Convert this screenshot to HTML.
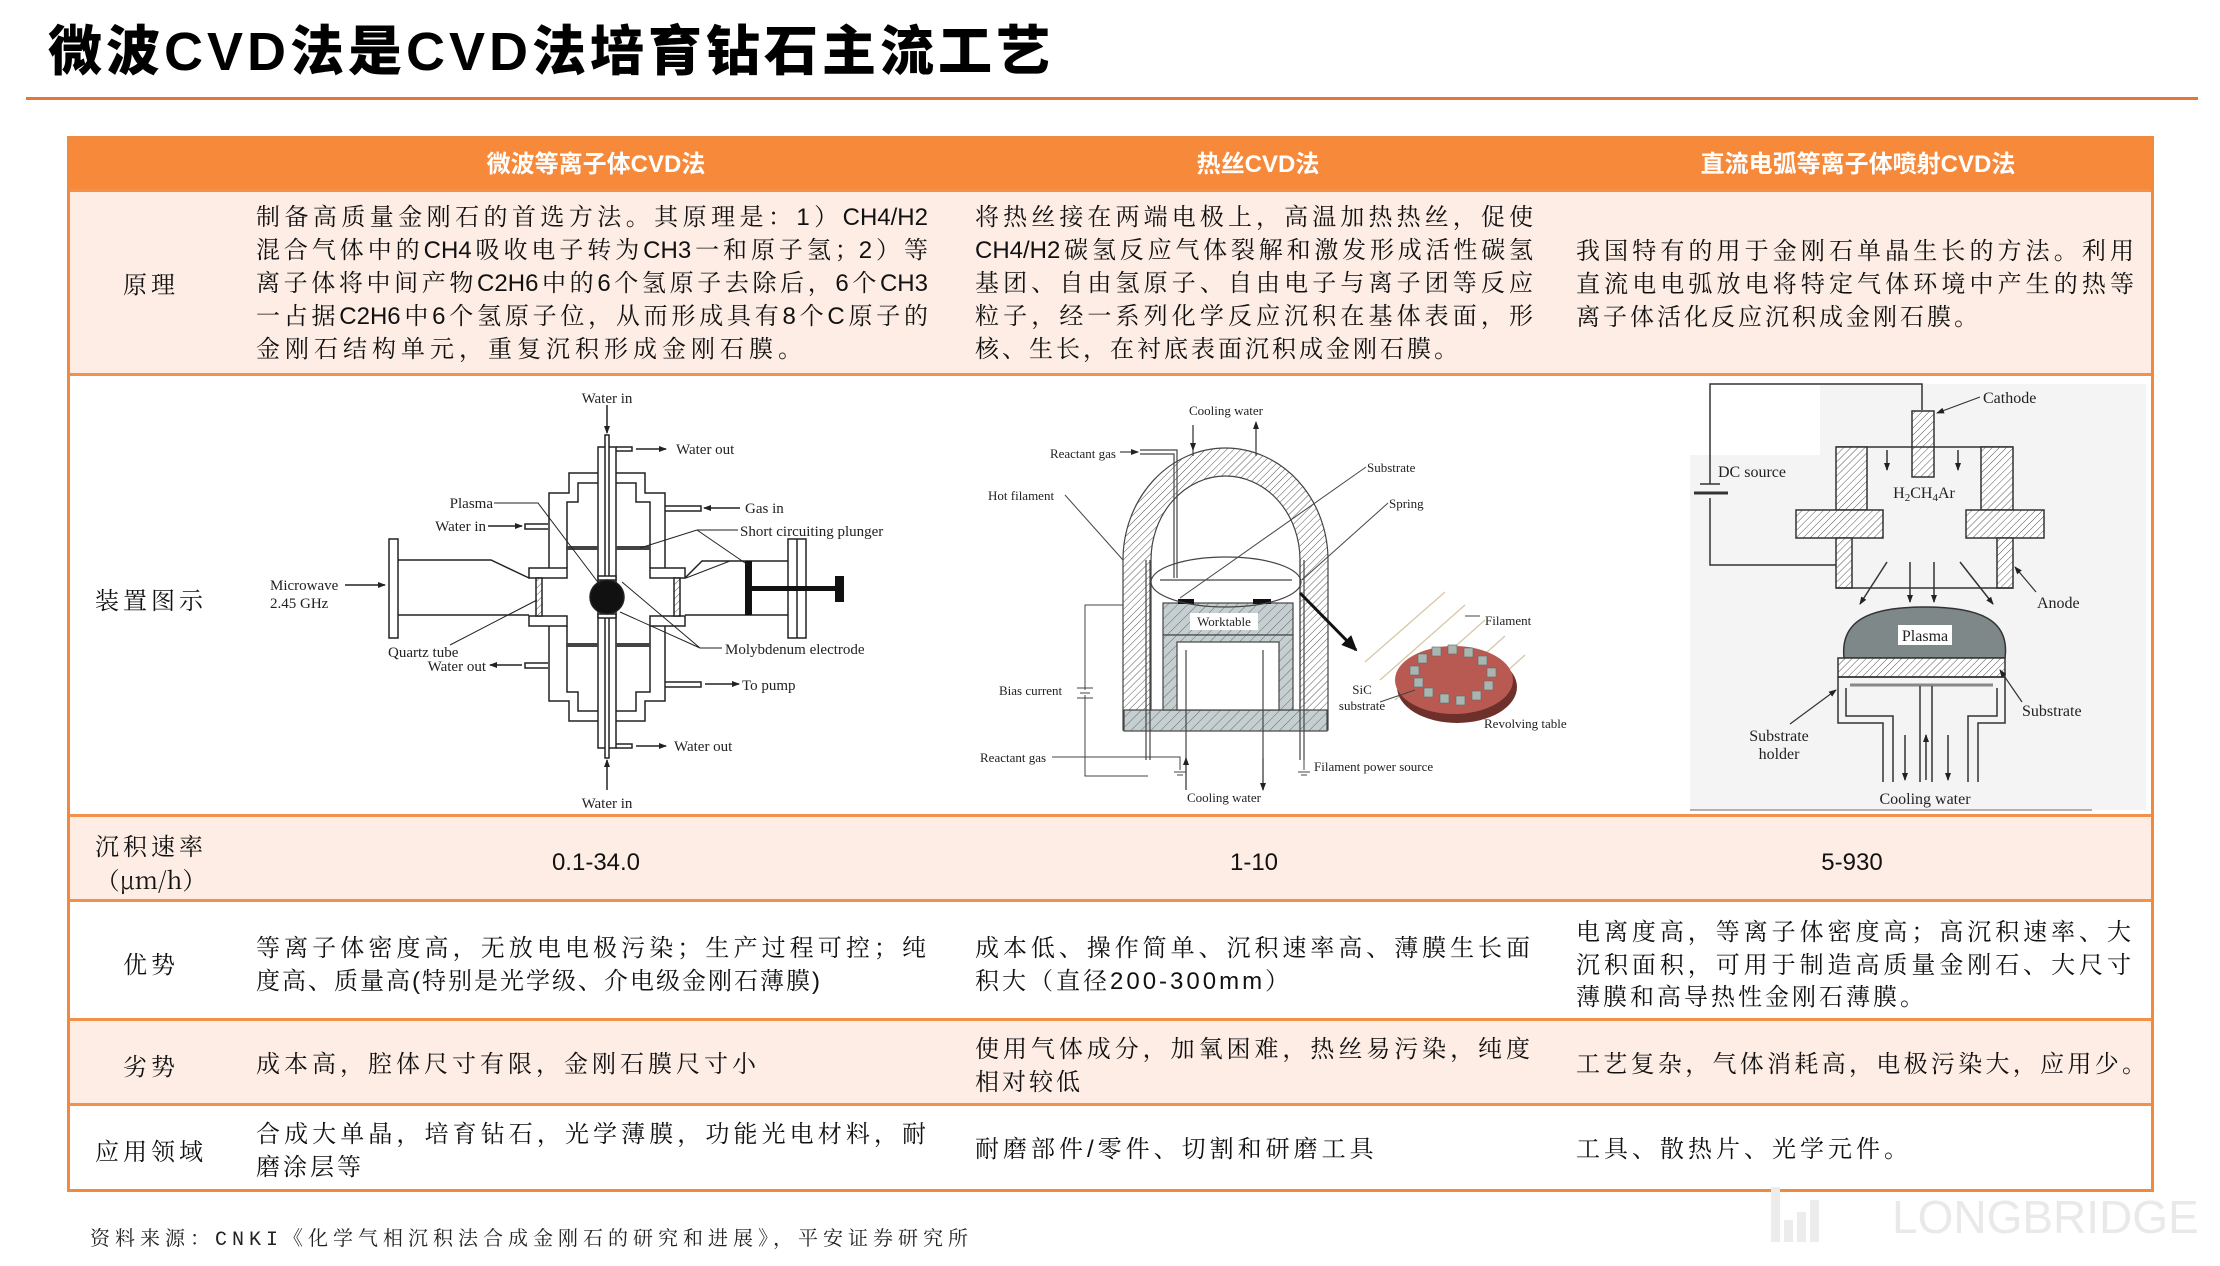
<!DOCTYPE html>
<html><head><meta charset="utf-8">
<style>
*{margin:0;padding:0;box-sizing:border-box}
body{width:2220px;height:1266px;background:#fff;position:relative;overflow:hidden;font-family:"Liberation Sans","Noto Serif CJK SC",serif}
.a{position:absolute}
.title{left:48px;top:21px;font-family:"Liberation Sans","Noto Sans CJK SC",sans-serif;font-weight:900;font-size:54px;letter-spacing:4px;color:#000;white-space:nowrap;line-height:62px}
.row{position:absolute;left:68px;width:2084px;border-top:3px solid #F2914C}
.pink{background:#FDEDE5}
.hd{color:#fff;font-family:"Liberation Sans","Noto Sans CJK SC",sans-serif;font-weight:bold;font-size:24px;text-align:center;white-space:nowrap;transform:translateX(-50%);line-height:30px}
.t{font-family:"Liberation Sans","Noto Serif CJK SC",serif;font-size:24px;color:#111;line-height:30px;white-space:nowrap;letter-spacing:5px;transform:translateY(-50%)}
.j{text-align:justify;text-align-last:justify;letter-spacing:0}
.lab{font-family:"Noto Serif CJK SC",serif;font-size:24px;color:#111;line-height:30px;white-space:nowrap;letter-spacing:4px;transform:translate(-50%,-50%);text-align:center}
.num{font-family:"Liberation Sans",sans-serif;font-size:24px;color:#111;transform:translate(-50%,-50%);white-space:nowrap}
svg text{font-family:"Liberation Serif",serif;fill:#222}
</style></head><body>
<div class="a title">微波CVD法是CVD法培育钻石主流工艺</div>
<div class="a" style="left:26px;top:97px;width:2172px;height:3px;background:#E8743A"></div>

<!-- table -->
<div class="a" style="left:68px;top:137px;width:2084px;height:54px;background:#F7893B"></div>
<div class="row pink" style="top:189px;height:186px"></div>
<div class="row" style="top:373px;height:443px;background:#fff"></div>
<div class="row pink" style="top:814px;height:87px"></div>
<div class="row" style="top:899px;height:121px"></div>
<div class="row pink" style="top:1018px;height:87px"></div>
<div class="row" style="top:1103px;height:87px"></div>
<div class="a" style="left:67px;top:136px;width:2087px;height:1056px;border:3px solid #F08A3E"></div>

<div class="a hd" style="left:596px;top:150px">微波等离子体CVD法</div>
<div class="a hd" style="left:1258px;top:150px">热丝CVD法</div>
<div class="a hd" style="left:1858px;top:150px">直流电弧等离子体喷射CVD法</div>

<!-- 原理 -->
<div class="a lab" style="left:151px;top:283px">原理</div>
<div class="a t j" style="left:256px;top:218px;width:672px">制备高质量金刚石的首选方法。其原理是：1）CH4/H2</div>
<div class="a t j" style="left:256px;top:251px;width:672px">混合气体中的CH4吸收电子转为CH3一和原子氢；2）等</div>
<div class="a t j" style="left:256px;top:284px;width:672px">离子体将中间产物C2H6中的6个氢原子去除后，6个CH3</div>
<div class="a t j" style="left:256px;top:317px;width:672px">一占据C2H6中6个氢原子位，从而形成具有8个C原子的</div>
<div class="a t" style="left:256px;top:350px">金刚石结构单元，重复沉积形成金刚石膜。</div>

<div class="a t j" style="left:975px;top:218px;width:558px">将热丝接在两端电极上，高温加热热丝，促使</div>
<div class="a t j" style="left:975px;top:251px;width:558px">CH4/H2碳氢反应气体裂解和激发形成活性碳氢</div>
<div class="a t j" style="left:975px;top:284px;width:558px">基团、自由氢原子、自由电子与离子团等反应</div>
<div class="a t j" style="left:975px;top:317px;width:558px">粒子，经一系列化学反应沉积在基体表面，形</div>
<div class="a t" style="left:975px;top:350px;letter-spacing:3px">核、生长，在衬底表面沉积成金刚石膜。</div>

<div class="a t j" style="left:1576px;top:252px;width:558px">我国特有的用于金刚石单晶生长的方法。利用</div>
<div class="a t j" style="left:1576px;top:285px;width:558px">直流电电弧放电将特定气体环境中产生的热等</div>
<div class="a t" style="left:1576px;top:318px;letter-spacing:3px">离子体活化反应沉积成金刚石膜。</div>

<!-- 装置 -->
<div class="a lab" style="left:151px;top:599px">装置图示</div>

<!-- 沉积 -->
<div class="a lab" style="left:151px;top:845px">沉积速率</div>
<div class="a lab" style="left:151px;top:879px;letter-spacing:0">（μm/h）</div>
<div class="a num" style="left:596px;top:863px">0.1-34.0</div>
<div class="a num" style="left:1254px;top:863px">1-10</div>
<div class="a num" style="left:1852px;top:863px">5-930</div>

<!-- 优势 -->
<div class="a lab" style="left:151px;top:963px">优势</div>
<div class="a t j" style="left:256px;top:949px;width:670px">等离子体密度高，无放电电极污染；生产过程可控；纯</div>
<div class="a t" style="left:256px;top:982px;letter-spacing:2px">度高、质量高(特别是光学级、介电级金刚石薄膜)</div>
<div class="a t j" style="left:975px;top:949px;width:555px">成本低、操作简单、沉积速率高、薄膜生长面</div>
<div class="a t" style="left:975px;top:982px;letter-spacing:3px">积大（直径200-300mm）</div>
<div class="a t j" style="left:1576px;top:933px;width:555px">电离度高，等离子体密度高；高沉积速率、大</div>
<div class="a t j" style="left:1576px;top:966px;width:555px">沉积面积，可用于制造高质量金刚石、大尺寸</div>
<div class="a t" style="left:1576px;top:998px;letter-spacing:3px">薄膜和高导热性金刚石薄膜。</div>

<!-- 劣势 -->
<div class="a lab" style="left:151px;top:1065px">劣势</div>
<div class="a t" style="left:256px;top:1065px;letter-spacing:4px">成本高，腔体尺寸有限，金刚石膜尺寸小</div>
<div class="a t j" style="left:975px;top:1050px;width:555px">使用气体成分，加氧困难，热丝易污染，纯度</div>
<div class="a t" style="left:975px;top:1083px;letter-spacing:3px">相对较低</div>
<div class="a t j" style="left:1576px;top:1065px;width:570px">工艺复杂，气体消耗高，电极污染大，应用少。</div>

<!-- 应用 -->
<div class="a lab" style="left:151px;top:1150px">应用领域</div>
<div class="a t j" style="left:256px;top:1135px;width:670px">合成大单晶，培育钻石，光学薄膜，功能光电材料，耐</div>
<div class="a t" style="left:256px;top:1168px;letter-spacing:3px">磨涂层等</div>
<div class="a t" style="left:975px;top:1150px;letter-spacing:4px">耐磨部件/零件、切割和研磨工具</div>
<div class="a t" style="left:1576px;top:1150px;letter-spacing:4px">工具、散热片、光学元件。</div>

<div class="a" style="left:90px;top:1222px;font-family:'Liberation Mono','Noto Serif CJK SC',serif;font-size:20px;letter-spacing:5px;color:#222;white-space:nowrap">资料来源：CNKI《化学气相沉积法合成金刚石的研究和进展》，平安证券研究所</div>

<!-- watermark -->
<div class="a" style="left:1771px;top:1187px;width:9px;height:55px;background:#ececec"></div>
<div class="a" style="left:1784px;top:1220px;width:9px;height:22px;background:#ececec"></div>
<div class="a" style="left:1797px;top:1212px;width:9px;height:30px;background:#ececec"></div>
<div class="a" style="left:1810px;top:1200px;width:9px;height:42px;background:#ececec"></div>
<div class="a" style="left:1892px;top:1190px;font-family:'Liberation Sans',sans-serif;font-size:46px;color:#e9e9e9;white-space:nowrap">LONGBRIDGE</div>

<svg class="a" style="left:0;top:0" width="2220" height="1266" viewBox="0 0 2220 1266">
<defs>
<pattern id="h" width="5" height="5" patternUnits="userSpaceOnUse" patternTransform="rotate(45)"><rect width="5" height="5" fill="#fff"/><line x1="0" y1="0" x2="0" y2="5" stroke="#555" stroke-width="1"/></pattern>
<pattern id="hg" width="7" height="7" patternUnits="userSpaceOnUse" patternTransform="rotate(45)"><rect width="7" height="7" fill="#c5cfcf"/><line x1="0" y1="0" x2="0" y2="7" stroke="#667" stroke-width="1"/></pattern>
<marker id="ar" markerWidth="8" markerHeight="8" refX="7" refY="4" orient="auto" markerUnits="userSpaceOnUse"><path d="M0,1 L8,4 L0,7 Z" fill="#222"/></marker>
<marker id="arb" markerWidth="16" markerHeight="14" refX="14" refY="7" orient="auto" markerUnits="userSpaceOnUse"><path d="M0,0 L16,7 L0,14 Z" fill="#111"/></marker>
</defs>

<!-- ========== Microwave diagram ========== -->
<g stroke="#222" stroke-width="1.5" fill="none" font-size="15">
<rect x="598" y="447" width="18" height="301" fill="#fff"/>
<rect x="605" y="435" width="4" height="323" fill="#fff"/>
<line x1="607" y1="405" x2="607" y2="433" marker-end="url(#ar)"/>
<line x1="607" y1="790" x2="607" y2="760" marker-end="url(#ar)"/>
<path d="M616,447 H632 V451 H616"/>
<line x1="636" y1="449" x2="666" y2="449" marker-end="url(#ar)"/>
<path d="M616,744 H632 V748 H616"/>
<line x1="636" y1="746" x2="666" y2="746" marker-end="url(#ar)"/>
<path d="M549,568 V493 H569 V473 H598 M616,473 H645 V493 H665 V568"/>
<path d="M567,568 V502 H578 V483 H598 M616,483 H636 V502 H650 V568"/>
<path d="M549,626 V701 H569 V721 H598 M616,721 H645 V701 H665 V626"/>
<path d="M567,626 V692 H578 V711 H598 M616,711 H636 V692 H650 V626"/>
<rect x="529" y="568" width="38" height="10"/>
<rect x="650" y="568" width="35" height="10"/>
<rect x="529" y="616" width="38" height="10"/>
<rect x="650" y="616" width="35" height="10"/>
<rect x="536" y="578" width="6" height="38" fill="url(#h)"/>
<rect x="674" y="578" width="6" height="38" fill="url(#h)"/>
<rect x="389" y="539" width="9" height="99"/>
<path d="M398,560 H491 L529,578 M398,615 H529"/>
<path d="M685,578 L702,561 H788 M685,615 H788"/>
<rect x="788" y="539" width="18" height="99"/>
<line x1="797" y1="539" x2="797" y2="638"/>
<rect x="745" y="561" width="7" height="54" fill="#111" stroke="none"/>
<rect x="752" y="586" width="83" height="5" fill="#111" stroke="none"/>
<rect x="835" y="576" width="9" height="26" fill="#111" stroke="none"/>
<rect x="598" y="576" width="18" height="4" fill="#fff"/>
<rect x="598" y="614" width="18" height="4" fill="#fff"/>
<ellipse cx="607" cy="597" rx="17" ry="17" fill="#111"/>
<rect x="566" y="546" width="32" height="4" fill="#444" stroke="none"/>
<rect x="616" y="546" width="34" height="4" fill="#444" stroke="none"/>
<rect x="566" y="643" width="32" height="4" fill="#444" stroke="none"/>
<rect x="616" y="643" width="34" height="4" fill="#444" stroke="none"/>
<path d="M548,524 H525 V529 H548"/>
<line x1="488" y1="526" x2="522" y2="526" marker-end="url(#ar)"/>
<path d="M665,506 H701 V511 H665"/>
<line x1="740" y1="508" x2="704" y2="508" marker-end="url(#ar)"/>
<path d="M665,682 H701 V687 H665"/>
<line x1="705" y1="684" x2="739" y2="684" marker-end="url(#ar)"/>
<path d="M548,663 H525 V668 H548"/>
<line x1="522" y1="665" x2="490" y2="665" marker-end="url(#ar)"/>
<line x1="345" y1="585" x2="385" y2="585" marker-end="url(#ar)"/>
<g stroke-width="1">
<path d="M494,503 H538 L600,585"/>
<path d="M738,530 H697 L640,548 M697,530 L748,565"/>
<path d="M686,578 L730,561"/>
<path d="M722,648 H700 L622,582 M700,648 L620,612"/>
<path d="M450,645 L537,600"/>
</g>
</g>
<g font-size="15">
<text x="607" y="403" text-anchor="middle">Water in</text>
<text x="676" y="454">Water out</text>
<text x="674" y="751">Water out</text>
<text x="607" y="808" text-anchor="middle">Water in</text>
<text x="493" y="508" text-anchor="end">Plasma</text>
<text x="486" y="531" text-anchor="end">Water in</text>
<text x="745" y="513">Gas in</text>
<text x="740" y="536">Short circuiting plunger</text>
<text x="270" y="590">Microwave</text>
<text x="270" y="608">2.45 GHz</text>
<text x="388" y="657">Quartz tube</text>
<text x="486" y="671" text-anchor="end">Water out</text>
<text x="725" y="654">Molybdenum electrode</text>
<text x="742" y="690">To pump</text>
</g>

<!-- ========== Hot filament diagram ========== -->
<g stroke="#444" stroke-width="1.2" font-size="13">
<path d="M1123,730 V560 A102.5,112 0 0 1 1328,560 V730 Z" fill="url(#h)"/>
<path d="M1151,712 V560 A74.5,84 0 0 1 1300,560 V712 Z" fill="#fff"/>
<rect x="1124" y="710" width="203" height="21" fill="url(#hg)"/>
<rect x="1163" y="603" width="130" height="32" fill="url(#hg)"/>
<rect x="1163" y="635" width="130" height="75" fill="url(#hg)"/>
<rect x="1177" y="642" width="102" height="68" fill="#fff"/>
<rect x="1190" y="613" width="68" height="17" fill="#fff" stroke="none"/>
<rect x="1178" y="599" width="16" height="5" fill="#111" stroke="none"/>
<rect x="1253" y="599" width="18" height="5" fill="#111" stroke="none"/>
<line x1="1160" y1="580" x2="1292" y2="580"/>
<ellipse cx="1226" cy="582" rx="75" ry="25" fill="none"/>
<path d="M1146,560 V760 M1150,560 V760 M1300,560 V760 M1304,560 V760" fill="none"/>
<path d="M1186,650 V790 M1263,650 V790" fill="none"/>
<path d="M1140,450 H1177 V578 M1140,454 H1174 V578" fill="none"/>
<line x1="1120" y1="452" x2="1138" y2="452" marker-end="url(#ar)"/>
<path d="M1193,425 V456 M1256,456 V425" fill="none"/>
<line x1="1193" y1="425" x2="1193" y2="450" marker-end="url(#ar)"/>
<line x1="1256" y1="450" x2="1256" y2="422" marker-end="url(#ar)"/>
<line x1="1186" y1="790" x2="1186" y2="758" marker-end="url(#ar)"/>
<line x1="1263" y1="758" x2="1263" y2="790" marker-end="url(#ar)"/>
<line x1="1300" y1="593" x2="1356" y2="650" stroke="#111" stroke-width="3" marker-end="url(#arb)"/>
<g stroke="#d8c7a5" stroke-width="1.3">
<line x1="1365" y1="662" x2="1445" y2="592"/>
<line x1="1380" y1="680" x2="1465" y2="605"/>
<line x1="1395" y1="700" x2="1485" y2="620"/>
<line x1="1420" y1="712" x2="1505" y2="636"/>
<line x1="1455" y1="718" x2="1525" y2="655"/>
</g>
<ellipse cx="1457" cy="687" rx="60" ry="36" fill="#6e302b" stroke="none"/>
<ellipse cx="1454" cy="680" rx="59" ry="34" fill="#b85a52" stroke="none"/>
<g fill="#aab4b0" stroke="#666" stroke-width="0.6">
<rect x="1410" y="666" width="9" height="9"/><rect x="1418" y="654" width="9" height="9"/><rect x="1432" y="647" width="9" height="9"/><rect x="1448" y="645" width="9" height="9"/><rect x="1464" y="648" width="9" height="9"/><rect x="1478" y="656" width="9" height="9"/><rect x="1487" y="668" width="9" height="9"/><rect x="1484" y="681" width="9" height="9"/><rect x="1472" y="691" width="9" height="9"/><rect x="1456" y="696" width="9" height="9"/><rect x="1440" y="694" width="9" height="9"/><rect x="1424" y="688" width="9" height="9"/><rect x="1414" y="678" width="9" height="9"/>
</g>
<g fill="none" stroke-width="1">
<path d="M1085,690 V605 H1123 M1085,695 V776 H1148"/>
<path d="M1077,688 H1093 M1080,693 H1090 M1077,698 H1093"/>
<path d="M1052,757 H1180 V770 M1174,772 H1186 M1177,775 H1183"/>
<path d="M1304,760 V770 M1298,772 H1310 M1301,775 H1307"/>
<path d="M1065,495 L1123,560"/>
<path d="M1366,467 L1180,598"/>
<path d="M1388,503 L1302,580"/>
<path d="M1480,616 H1465"/>
<path d="M1380,702 L1415,690"/>
</g>
</g>
<g font-size="13">
<text x="1226" y="415" text-anchor="middle">Cooling water</text>
<text x="1116" y="458" text-anchor="end">Reactant gas</text>
<text x="1367" y="472">Substrate</text>
<text x="988" y="500">Hot filament</text>
<text x="1389" y="508">Spring</text>
<text x="1224" y="626" text-anchor="middle">Worktable</text>
<text x="1485" y="625">Filament</text>
<text x="1362" y="694" text-anchor="middle">SiC</text>
<text x="1362" y="710" text-anchor="middle">substrate</text>
<text x="1484" y="728">Revolving table</text>
<text x="999" y="695">Bias current</text>
<text x="980" y="762">Reactant gas</text>
<text x="1314" y="771">Filament power source</text>
<text x="1224" y="802" text-anchor="middle">Cooling water</text>
</g>

<!-- ========== DC arc diagram ========== -->
<rect x="1690" y="455" width="456" height="355" fill="#f4f4f4"/>
<rect x="1820" y="384" width="326" height="75" fill="#f4f4f4"/>
<line x1="1690" y1="810" x2="2092" y2="810" stroke="#999" stroke-width="1.5"/>
<g stroke="#333" stroke-width="1.5" fill="none" font-size="16">
<path d="M1922,410 V384 H1710 V484 M1710,498 V565 H1836"/>
<path d="M1700,484 H1720" stroke-width="1.5"/>
<path d="M1694,493 H1728" stroke-width="3"/>
<rect x="1912" y="411" width="22" height="66" fill="url(#h)"/>
<line x1="1836" y1="447" x2="2013" y2="447"/>
<rect x="1836" y="447" width="31" height="63" fill="url(#h)"/>
<rect x="1981" y="447" width="32" height="63" fill="url(#h)"/>
<rect x="1796" y="510" width="87" height="28" fill="url(#h)"/>
<rect x="1966" y="510" width="78" height="28" fill="url(#h)"/>
<rect x="1836" y="538" width="16" height="50" fill="url(#h)"/>
<rect x="1997" y="538" width="16" height="50" fill="url(#h)"/>
<line x1="1836" y1="588" x2="2013" y2="588"/>
<line x1="1887" y1="450" x2="1887" y2="470" marker-end="url(#ar)"/>
<line x1="1958" y1="450" x2="1958" y2="470" marker-end="url(#ar)"/>
<line x1="1887" y1="562" x2="1860" y2="604" marker-end="url(#ar)"/>
<line x1="1910" y1="562" x2="1910" y2="602" marker-end="url(#ar)"/>
<line x1="1934" y1="562" x2="1934" y2="602" marker-end="url(#ar)"/>
<line x1="1960" y1="562" x2="1993" y2="604" marker-end="url(#ar)"/>
<path d="M1844,658 C1840,620 1870,607 1925,607 C1980,607 2010,620 2005,658 Z" fill="#7e8888"/>
<rect x="1838" y="658" width="167" height="19" fill="url(#h)"/>
<path d="M1838,677 V723 H1883 V782 M2005,677 V723 H1978 V782 M1838,677 H2005"/>
<path d="M1846,688 V716 H1893 V782 M1997,688 V716 H1968 V782"/>
<line x1="1850" y1="685" x2="1993" y2="685" stroke="#888" stroke-width="3"/>
<path d="M1920,686 V782 M1932,686 V782"/>
<line x1="1905" y1="735" x2="1905" y2="780" marker-end="url(#ar)"/>
<line x1="1926" y1="780" x2="1926" y2="735" marker-end="url(#ar)"/>
<line x1="1948" y1="735" x2="1948" y2="780" marker-end="url(#ar)"/>
<g stroke-width="1.2">
<line x1="1980" y1="397" x2="1937" y2="413" marker-end="url(#ar)"/>
<line x1="2036" y1="592" x2="2015" y2="567" marker-end="url(#ar)"/>
<line x1="2022" y1="702" x2="2000" y2="670" marker-end="url(#ar)"/>
<line x1="1790" y1="724" x2="1836" y2="690" marker-end="url(#ar)"/>
</g>
</g>
<rect x="1898" y="625" width="54" height="20" fill="#fff"/>
<g font-size="16">
<text x="1983" y="403">Cathode</text>
<text x="1718" y="477">DC source</text>
<text x="1924" y="498" text-anchor="middle">H<tspan font-size="11" dy="3">2</tspan><tspan dy="-3">CH</tspan><tspan font-size="11" dy="3">4</tspan><tspan dy="-3">Ar</tspan></text>
<text x="2037" y="608">Anode</text>
<text x="1925" y="641" text-anchor="middle">Plasma</text>
<text x="2022" y="716">Substrate</text>
<text x="1779" y="741" text-anchor="middle">Substrate</text>
<text x="1779" y="759" text-anchor="middle">holder</text>
<text x="1925" y="804" text-anchor="middle">Cooling water</text>
</g>
</svg>
</body></html>
